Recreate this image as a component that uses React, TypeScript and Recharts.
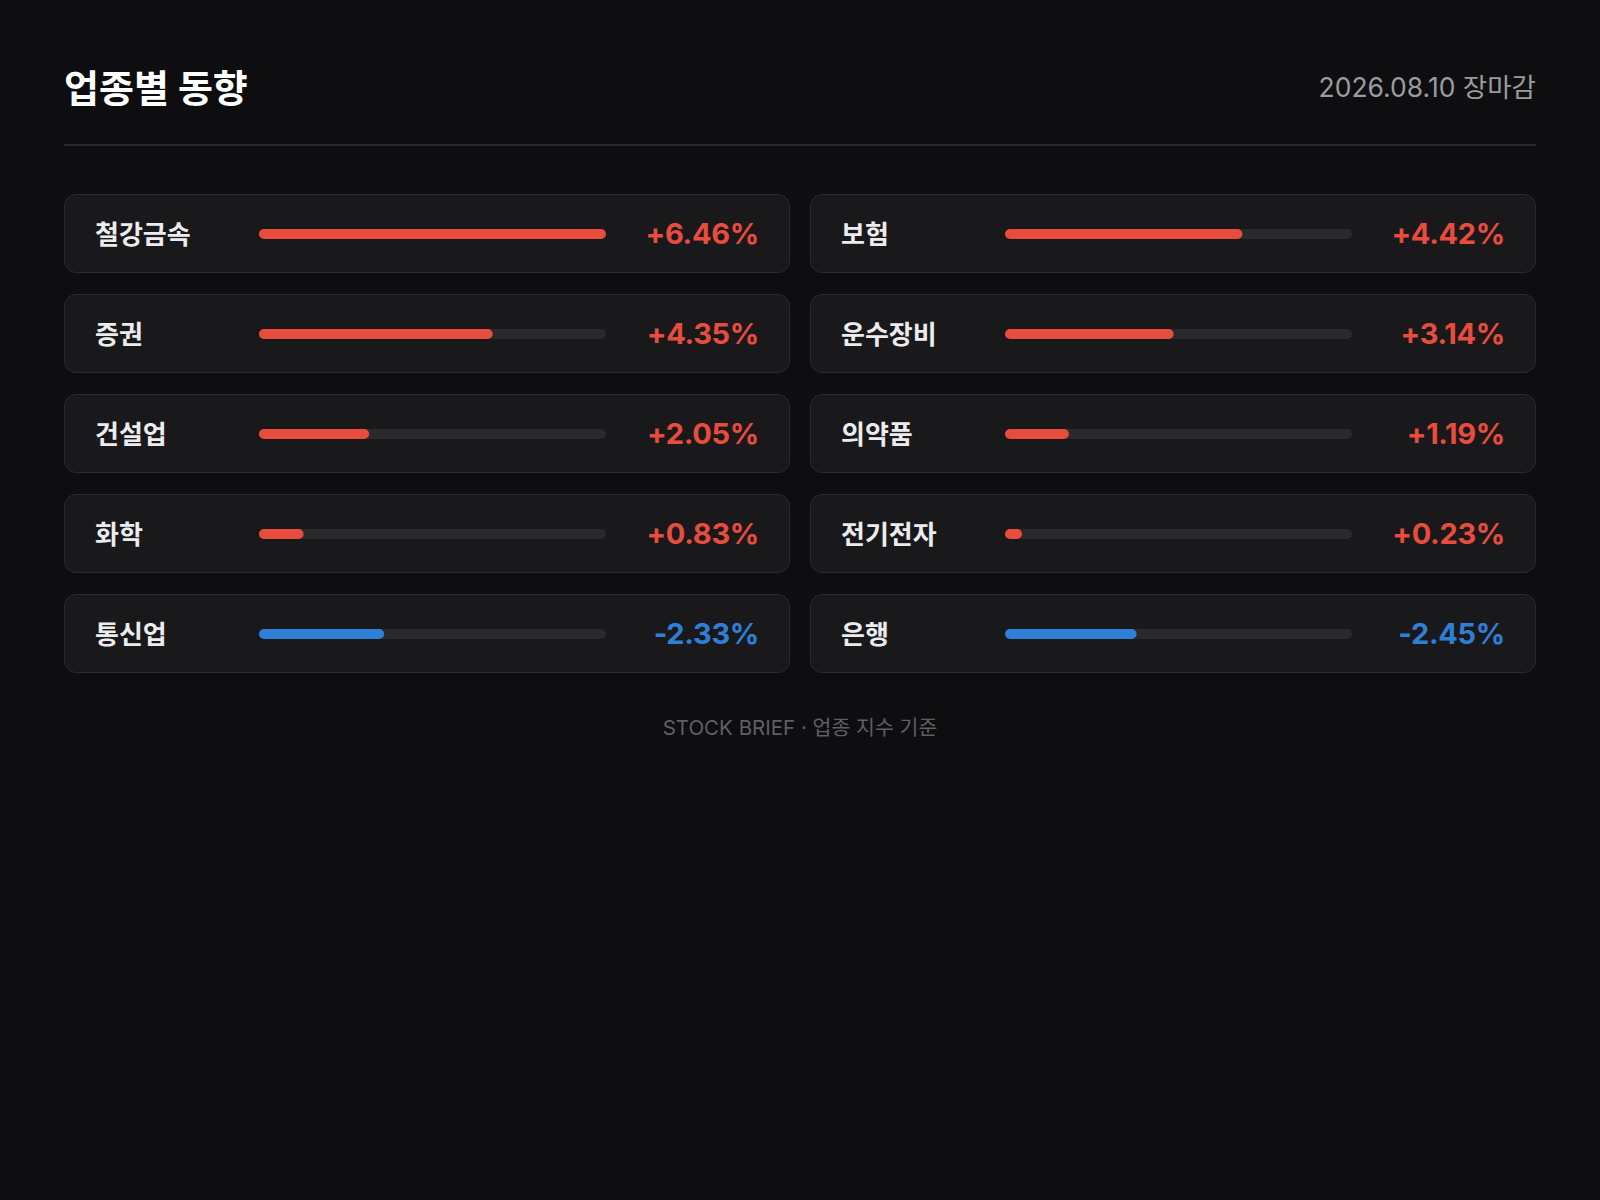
import React from "react";
import { BarChart, Bar, XAxis, YAxis, Cell } from "recharts";

const sectors = ["철강금속", "보험", "증권", "운수장비", "건설업", "의약품", "화학", "전기전자", "통신업", "은행"];
const changes = [6.46, 4.42, 4.35, 3.14, 2.05, 1.19, 0.83, 0.23, -2.33, -2.45];

const TITLE = "업종별 동향";
const DATE_LABEL = "2026.08.10 장마감";
const FOOTER = "STOCK BRIEF · 업종 지수 기준";

const UP = "#e84c3d";
const DOWN = "#2f7fd6";
const FONT = 'Inter, "Noto Sans CJK KR", sans-serif';

const maxAbs = Math.max(...changes.map((v) => Math.abs(v)));

function SectorCard({ name, change }: { name: string; change: number }) {
  const color = change >= 0 ? UP : DOWN;
  const row = [{ name, abs: Math.abs(change) }];
  const text = (change >= 0 ? "+" : "") + change.toFixed(2) + "%";
  return (
    <div
      style={{
        width: 726,
        height: 79,
        boxSizing: "border-box",
        background: "#19191c",
        border: "1.5px solid #2a2a2e",
        borderRadius: 12,
        display: "flex",
        alignItems: "center",
        padding: "0 30px",
      }}
    >
      <div style={{ width: 164, color: "#ececee", fontSize: 26, fontWeight: 600, marginTop: -3 }}>{name}</div>
      <BarChart width={347} height={11} data={row} layout="vertical" margin={{ top: 0, right: 0, bottom: 0, left: 0 }}>
        <XAxis type="number" domain={[0, maxAbs]} hide />
        <YAxis type="category" dataKey="name" hide width={0} />
        <Bar
          dataKey="abs"
          barSize={11}
          radius={5.5}
          minPointSize={17}
          background={{ fill: "#2a2a2d", radius: 5.5 }}
          isAnimationActive={false}
        >
          <Cell fill={color} />
        </Bar>
      </BarChart>
      <div style={{ flex: 1, textAlign: "right", color, fontSize: 29, fontWeight: 700, letterSpacing: -0.3 }}>
        {text}
      </div>
    </div>
  );
}

export default function App() {
  return (
    <div
      style={{
        position: "absolute",
        top: 0,
        left: 0,
        width: 1600,
        height: 1200,
        background: "#0e0e10",
        fontFamily: FONT,
      }}
    >
      <div
        style={{
          position: "absolute",
          left: 64,
          top: 58,
          width: 1472,
          display: "flex",
          justifyContent: "space-between",
          alignItems: "center",
          height: 54,
        }}
      >
        <div style={{ color: "#ffffff", fontSize: 38, fontWeight: 700 }}>{TITLE}</div>
        <div style={{ color: "#9b9b9f", fontSize: 26.5 }}>{DATE_LABEL}</div>
      </div>
      <div style={{ position: "absolute", left: 64, top: 144, width: 1472, height: 2, background: "#2a2a2e" }} />
      <div
        style={{
          position: "absolute",
          left: 64,
          top: 194,
          width: 1472,
          display: "grid",
          gridTemplateColumns: "726px 726px",
          columnGap: 20,
          rowGap: 21,
        }}
      >
        {sectors.map((s, i) => (
          <SectorCard key={s} name={s} change={changes[i]} />
        ))}
      </div>
      <div
        style={{
          position: "absolute",
          left: 0,
          top: 711,
          width: 1600,
          textAlign: "center",
          color: "#5f5f64",
          fontSize: 20.5,
        }}
      >
        {FOOTER}
      </div>
    </div>
  );
}
